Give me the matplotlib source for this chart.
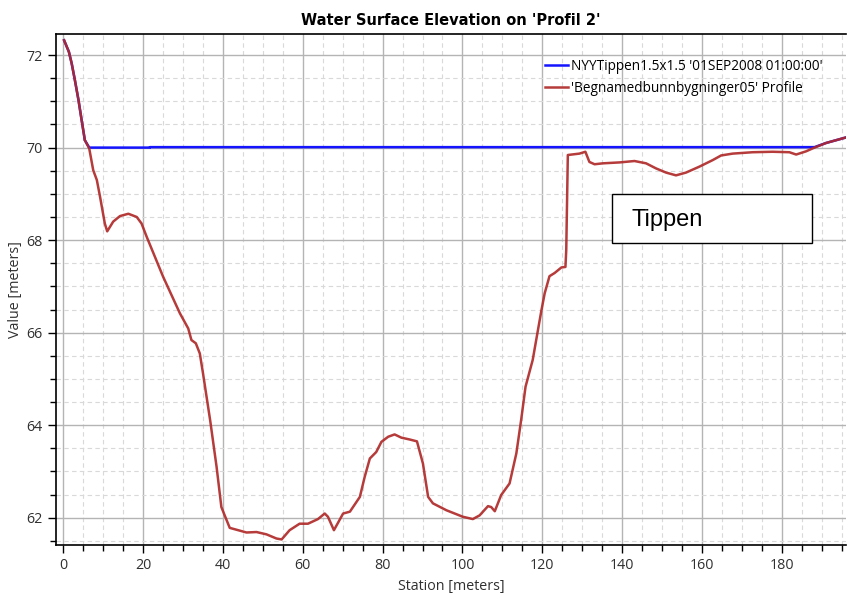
import matplotlib
matplotlib.use("Agg")
import matplotlib.pyplot as plt
from matplotlib.patches import Rectangle
from matplotlib.ticker import MultipleLocator

# ---- data ----
ground_x = [0.2, 1.4, 2.1, 2.9, 3.8, 4.6, 5.4, 6.5, 7.5, 8.4, 9.2, 10.4, 11.0, 12.5, 14.2,
            16.3, 18.4, 19.6, 20.9, 25.0, 29.2, 31.3, 32.1, 33.2, 34.2, 35.0, 35.9, 36.8,
            38.4, 39.6, 40.9, 41.7, 45.9, 48.4, 50.9, 53.4, 54.7, 56.7, 59.2, 61.3,
            63.8, 65.5, 66.3, 67.8, 70.1, 71.8, 74.3, 75.5, 76.8, 78.4, 79.7, 81.4, 83.0,
            84.7, 86.8, 88.6, 90.1, 91.4, 92.6, 96.0, 100.1, 102.6, 104.3, 106.4, 107.2,
            108.1, 109.7, 111.8, 113.5, 114.7, 115.8, 117.6, 118.9, 119.8, 120.6, 121.8,
            123.1, 124.8, 125.8, 126.0, 126.4, 129.3, 130.8, 131.8, 133.1, 135.2, 137.3,
            139.4, 143.1, 146.0, 148.5, 151.0, 153.5, 156.0, 159.4, 162.7, 164.8, 167.7,
            172.7, 177.7, 181.9, 183.6, 186.1, 188.2, 191.1, 196.1]
ground_y = [72.32, 72.07, 71.82, 71.46, 71.03, 70.59, 70.16, 69.98, 69.51, 69.30, 68.94,
            68.36, 68.19, 68.40, 68.52, 68.57, 68.50, 68.36, 68.07, 67.21, 66.42, 66.09,
            65.84, 65.77, 65.55, 65.12, 64.61, 64.10, 63.10, 62.23, 61.95, 61.78,
            61.68, 61.69, 61.64, 61.55, 61.53, 61.73, 61.87, 61.87, 61.97, 62.09, 62.02,
            61.73, 62.09, 62.13, 62.45, 62.88, 63.28, 63.42, 63.64, 63.75, 63.80, 63.73,
            63.69, 63.65, 63.17, 62.45, 62.31, 62.16, 62.02, 61.97, 62.05, 62.25, 62.23,
            62.14, 62.49, 62.74, 63.39, 64.11, 64.83, 65.41, 66.05, 66.49, 66.85, 67.22,
            67.29, 67.41, 67.42, 67.78, 69.84, 69.87, 69.91, 69.69, 69.64, 69.66, 69.67,
            69.68, 69.71, 69.66, 69.55, 69.46, 69.40, 69.46, 69.59, 69.73, 69.83, 69.87,
            69.90, 69.91, 69.90, 69.85, 69.92, 70.00, 70.10, 70.22]

wse_x = [0.2, 1.4, 2.1, 2.9, 3.8, 4.6, 5.4, 6.5, 21.7, 21.7, 188.2, 191.1, 196.1]
wse_y = [72.32, 72.07, 71.82, 71.46, 71.03, 70.59, 70.16, 70.00, 70.00, 70.01, 70.01, 70.10, 70.22]

title = "Water Surface Elevation on 'Profil 2'"
label_wse = "NYYTippen1.5x1.5 '01SEP2008 01:00:00'"
label_ground = "'Begnamedbunnbygninger05' Profile"
xlabel = "Station [meters]"
ylabel = "Value [meters]"
note = "Tippen"

# ---- figure ----
fig = plt.figure(figsize=(8.48, 6.01), dpi=100)
ax = fig.add_axes([0.0657, 0.0932, 0.9320, 0.8498])

ui_font = ["Open Sans", "DejaVu Sans"]

ax.set_xlim(-1.9, 196.1)
ax.set_ylim(61.41, 72.45)

ax.xaxis.set_major_locator(MultipleLocator(20))
ax.xaxis.set_minor_locator(MultipleLocator(5))
ax.yaxis.set_major_locator(MultipleLocator(2))
ax.yaxis.set_minor_locator(MultipleLocator(0.5))

ax.grid(which="major", color="#b4b4b4", linestyle="-", linewidth=1.0)
ax.grid(which="minor", color="#d9d9d9", linestyle=(0, (4, 3)), linewidth=0.8)
ax.set_axisbelow(True)

ax.plot(wse_x, wse_y, color="#1414ff", linewidth=1.8, label=label_wse, zorder=3)
ax.plot(ground_x, ground_y, color="#b02a2a", linewidth=1.8, label=label_ground, zorder=4, alpha=0.92)

ax.tick_params(which="both", direction="out", top=False, right=False, color="black")
ax.tick_params(which="major", length=6, width=1.0, labelsize=10.3)
ax.tick_params(which="minor", length=4, width=1.0)
for lab in ax.get_xticklabels() + ax.get_yticklabels():
    lab.set_family(ui_font)
    lab.set_color("#303030")

for side in ["left", "bottom", "top"]:
    ax.spines[side].set_color("black")
    ax.spines[side].set_linewidth(1.2)
ax.spines["right"].set_visible(False)

ax.set_xlabel(xlabel, family=ui_font, fontsize=10.3, color="#303030", labelpad=4)
ax.set_ylabel(ylabel, family=ui_font, fontsize=10.3, color="#303030", labelpad=2)
ax.set_title(title, family=["DejaVu Sans"], fontsize=10.5, fontweight="bold", pad=7)

leg = ax.legend(loc="upper left", bbox_to_anchor=(0.612, 0.962), frameon=False,
                prop={"family": ui_font, "size": 9.8}, handlelength=1.7,
                handletextpad=0.2, labelspacing=0.5, borderaxespad=0)

# annotation box
fig.patches.append(Rectangle((612 / 848, 1 - 243 / 601), 200 / 848, 49 / 601,
                             transform=fig.transFigure, facecolor="white",
                             edgecolor="black", linewidth=1.0, zorder=10))
fig.text(632 / 848, 1 - 220 / 601, note, family=["Liberation Sans", "DejaVu Sans"],
         fontsize=17, va="center", ha="left", zorder=11)

fig.savefig("out.png", dpi=100)
